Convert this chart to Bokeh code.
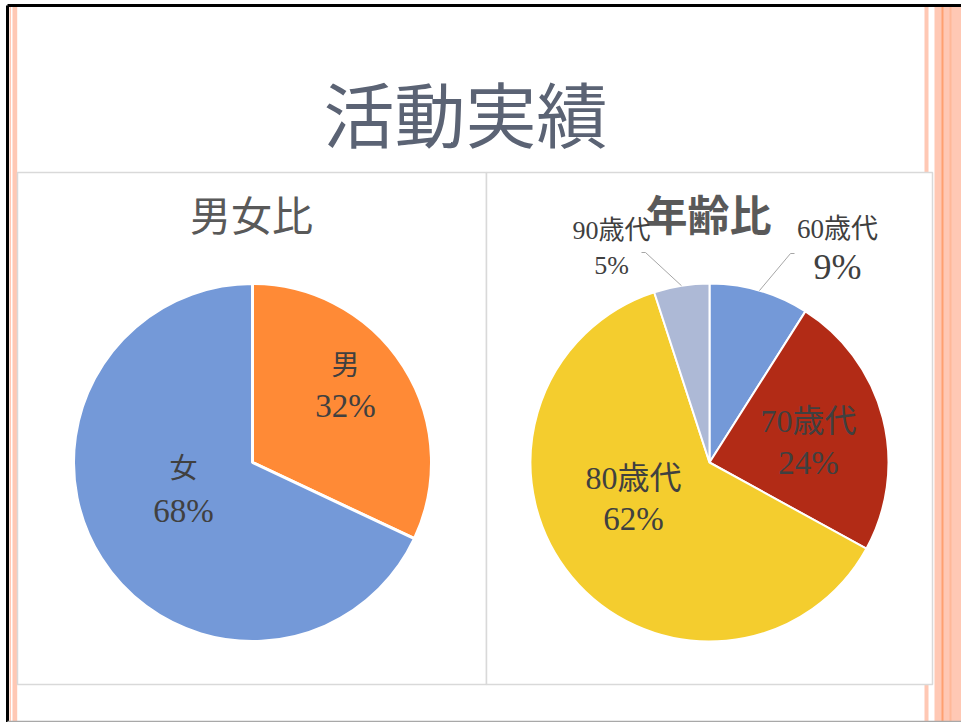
import math
from bokeh.plotting import figure
from bokeh.models import Range1d
from bokeh.core.properties import value
from bokeh.embed import file_html
from bokeh.resources import INLINE

# ---------------- data ----------------
title_text = "活動実績"
gender_title = "男女比"
gender_labels = ["男", "女"]
gender_values = [32, 68]
gender_colors = ["#FF8A36", "#7499D8"]

age_title = "年齢比"
age_labels = ["60歳代", "70歳代", "80歳代", "90歳代"]
age_values = [9, 24, 62, 5]
age_colors = ["#7499D8", "#B22B16", "#F4CD2E", "#ADB9D6"]

# ---------------- layout ----------------
W, H = 961, 722
def Y(v):
    return H - v

FONT_MIX = "'Liberation Serif', 'Noto Sans CJK JP', serif"
FONT_CJK = "'Noto Sans CJK JP', sans-serif"

p = figure(width=W, height=H, output_backend="svg", toolbar_location=None,
           x_range=Range1d(0, W), y_range=Range1d(0, H), min_border=0)
p.axis.visible = False
p.grid.visible = False
p.outline_line_color = None
p.background_fill_color = "white"
p.border_fill_color = "white"

# page decoration: stripes
stripe_color = "#FFC8B4"
p.quad(left=[9, 12, 924, 934], right=[10.5, 16.7, 928, 961],
       bottom=[0]*4, top=[Y(6)]*4, fill_color=stripe_color, line_color=None)
p.quad(left=[941, 949], right=[943, 951], bottom=[0, 0], top=[Y(6), Y(6)],
       fill_color=["#FFA070", "#FFB898"], line_color=None)
# black frame
p.line([7, 7], [0, Y(5)], line_color="black", line_width=3)
p.line([7, W], [Y(5), Y(5)], line_color="black", line_width=3)
p.line([7, W], [Y(721), Y(721)], line_color="#A8A8A8", line_width=1.5)

# panels
p.quad(left=[17, 486], right=[486, 932], bottom=[Y(684)]*2, top=[Y(172)]*2,
       fill_color="white", line_color="#D9D9D9", line_width=1.5)

# title
p.text(x=[465], y=[Y(110)], text=[title_text], text_align="center",
       text_baseline="middle", text_font=value(FONT_CJK),
       text_font_size="71px", text_color="#5B6374", text_font_style="normal")

# ---------------- pies ----------------
R = 179

def wedge_angles(values):
    total = float(sum(values))
    starts, ends, mids = [], [], []
    cum = 0.0
    for v in values:
        a0 = math.pi / 2 - 2 * math.pi * cum / total
        cum += v
        a1 = math.pi / 2 - 2 * math.pi * cum / total
        starts.append(a0)
        ends.append(a1)
        mids.append((a0 + a1) / 2)
    return starts, ends, mids

# gender pie
gcx, gcy = 252, Y(462)
gs, ge, gm = wedge_angles(gender_values)
p.wedge(x=gcx, y=gcy, radius=R, start_angle=gs, end_angle=ge, direction="clock",
        fill_color=gender_colors, line_color="white", line_width=3)
p.text(x=[251], y=[Y(212)], text=[gender_title], text_align="center",
       text_baseline="middle", text_font=value(FONT_CJK), text_font_size="41px",
       text_color="#595959")

g_label_pos = [(345, 365, 405), (183, 468, 510)]
for lab, v, (lx, ly1, ly2) in zip(gender_labels, gender_values, g_label_pos):
    p.text(x=[lx], y=[Y(ly1)], text=[lab], text_align="center", text_baseline="middle",
           text_font=value(FONT_MIX), text_font_size="28px", text_color="#404040")
    p.text(x=[lx], y=[Y(ly2)], text=[f"{v}%"], text_align="center", text_baseline="middle",
           text_font=value(FONT_MIX), text_font_size="33px", text_color="#404040")

# age pie
acx, acy = 709, Y(462)
as_, ae, am = wedge_angles(age_values)
p.wedge(x=acx, y=acy, radius=R, start_angle=as_, end_angle=ae, direction="clock",
        fill_color=age_colors, line_color="white", line_width=2)
p.text(x=[708], y=[Y(212)], text=[age_title], text_align="center",
       text_baseline="middle", text_font=value(FONT_CJK), text_font_size="42px",
       text_color="#595959", text_font_style="bold")

# label layout: (x, y_name, y_pct, name_size, pct_size, leader_end or None)
a_label_pos = [
    (837, 228, 266, "27px", "36px", (790, 253)),
    (808, 420, 462, "32px", "33px", None),
    (633, 477, 518, "32px", "33px", None),
    (611, 230, 265, "26px", "26px", (645, 252)),
]
for lab, v, mid, (lx, ly1, ly2, s1, s2, lead) in zip(age_labels, age_values, am, a_label_pos):
    p.text(x=[lx], y=[Y(ly1)], text=[lab], text_align="center", text_baseline="middle",
           text_font=value(FONT_MIX), text_font_size=s1, text_color="#404040")
    p.text(x=[lx], y=[Y(ly2)], text=[f"{v}%"], text_align="center", text_baseline="middle",
           text_font=value(FONT_MIX), text_font_size=s2, text_color="#404040")
    if lead is not None:
        sx = acx + R * math.cos(mid)
        sy = acy + R * math.sin(mid)
        ex, ey = lead
        hx = ex + (4 if ex > sx else -4)
        p.line([sx, ex, hx], [sy, Y(ey), Y(ey)], line_color="#A6A6A6", line_width=1)

open("out.html", "w").write(file_html(p, INLINE))
